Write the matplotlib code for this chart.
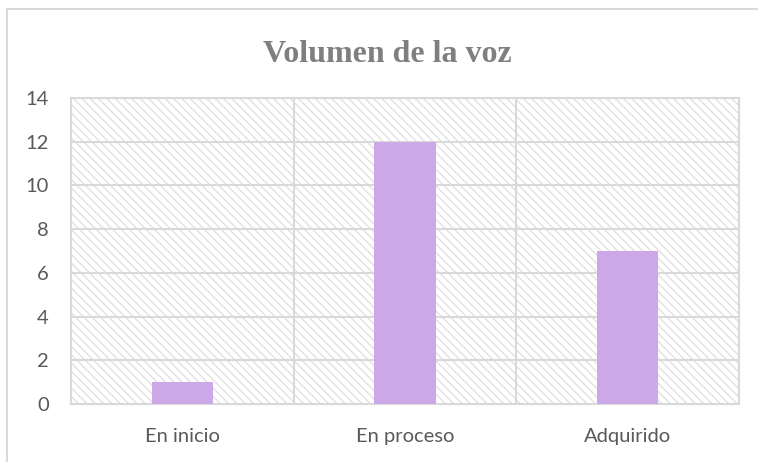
import matplotlib.pyplot as plt
from matplotlib.patches import Rectangle

categories = ['En inicio', 'En proceso', 'Adquirido']
values = [1, 12, 7]
y_ticks = [0, 2, 4, 6, 8, 10, 12, 14]

BAR_COLOR = '#CDA8E8'
GRID_COLOR = '#D9D9D9'
TEXT_COLOR = '#595959'

plt.rcParams['font.family'] = ['Lato', 'DejaVu Sans']
plt.rcParams['hatch.linewidth'] = 0.9

fig = plt.figure(figsize=(7.58, 4.62), dpi=100)
ax = fig.add_axes([71 / 758, 1 - 404 / 462, (739 - 71) / 758, (404 - 98) / 462])

# outer chart border (cut off at right and bottom like the reference)
fig.patches.append(Rectangle((7 / 758, -0.1), 1.2, 1.1 - 9 / 462,
                             transform=fig.transFigure, fill=False,
                             edgecolor=GRID_COLOR, linewidth=1.5, zorder=0))

# hatched plot background
ax.add_patch(Rectangle((0, 0), 1, 1, transform=ax.transAxes, facecolor='white',
                       edgecolor='#DEDEDE', hatch='\\\\\\\\', linewidth=0, zorder=0))

x = list(range(len(categories)))
ax.bar(x, values, width=0.275, color=BAR_COLOR, zorder=3)

ax.set_xlim(-0.5, len(categories) - 0.5)
ax.set_ylim(0, 14)
ax.set_yticks(y_ticks)
ax.set_xticks(x)
ax.set_xticklabels(categories)

# gridlines: horizontal at ticks, vertical between categories
for y in y_ticks[1:-1]:
    ax.axhline(y, color=GRID_COLOR, linewidth=1.5, zorder=1)
for xb in [0.5, 1.5]:
    ax.axvline(xb, color=GRID_COLOR, linewidth=1.5, zorder=1)

for s in ax.spines.values():
    s.set_color(GRID_COLOR)
    s.set_linewidth(1.5)

ax.tick_params(axis='both', length=0, labelsize=14.5, colors=TEXT_COLOR)
ax.tick_params(axis='y', pad=16)
ax.tick_params(axis='x', pad=17)

fig.text(387 / 758, 1 - 54 / 462, 'Volumen de la voz', ha='center', va='center',
         fontsize=23, fontweight='bold', color='#7F7F7F', family='Liberation Serif')

fig.savefig('out.png', dpi=100)
